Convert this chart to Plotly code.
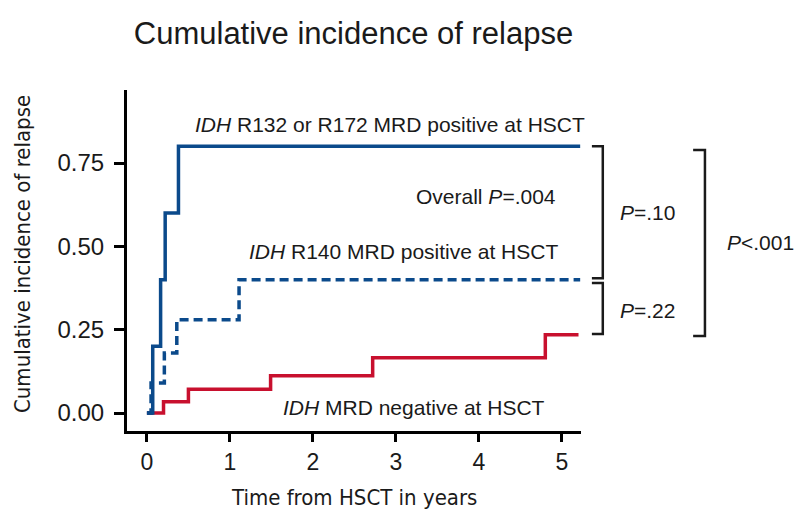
import plotly.graph_objects as go

# ---- data ----
title_text = "Cumulative incidence of relapse"
x_title = "Time from HSCT in years"
y_title = "Cumulative incidence of relapse"

x_ticks = [0, 1, 2, 3, 4, 5]
y_ticks = [0.0, 0.25, 0.50, 0.75]

# IDH R132 or R172 MRD positive (solid blue)
r132_t = [0, 0.07, 0.165, 0.22, 0.38, 5.22]
r132_v = [0, 0.20, 0.40, 0.60, 0.80, 0.80]

# IDH R140 MRD positive (dashed blue)
r140_t = [0, 0.05, 0.21, 0.36, 1.11, 5.22]
r140_v = [0, 0.09, 0.18, 0.28, 0.40, 0.40]

# IDH MRD negative (red)
neg_t = [0, 0.20, 0.50, 1.49, 2.72, 4.80, 5.20]
neg_v = [0, 0.034, 0.071, 0.112, 0.166, 0.235, 0.235]

label_r132 = "<i>IDH</i> R132 or R172 MRD positive at HSCT"
label_r140 = "<i>IDH</i> R140 MRD positive at HSCT"
label_neg = "<i>IDH</i> MRD negative at HSCT"
label_overall = "Overall <i>P</i>=.004"
p_top = "<i>P</i>=.10"
p_bottom = "<i>P</i>=.22"
p_all = "<i>P</i><.001"

BLUE = "#0b4a8b"
RED = "#c8102e"
INK = "#1a1a1a"
FONT = "Liberation Sans, Arial, Helvetica, sans-serif"
NARROW = "Liberation Sans Narrow, Arial Narrow, DejaVu Sans Condensed, Roboto Condensed, sans-serif"

fig = go.Figure()
fig.add_trace(go.Scatter(x=neg_t, y=neg_v, mode="lines", line_shape="hv",
                         line=dict(color=RED, width=3.5), showlegend=False))
fig.add_trace(go.Scatter(x=r140_t, y=r140_v, mode="lines", line_shape="hv",
                         line=dict(color=BLUE, width=3.5, dash="9px,5px"), showlegend=False))
fig.add_trace(go.Scatter(x=r132_t, y=r132_v, mode="lines", line_shape="hv",
                         line=dict(color=BLUE, width=3.5), showlegend=False))

LBL = 21
# curve labels (data coordinates)
ann = [
    dict(x=2.93, y=0.866, text=label_r132),
    dict(x=4.08, y=0.651, text=label_overall),
    dict(x=3.09, y=0.485, text=label_r140),
    dict(x=3.22, y=0.017, text=label_neg),
]
annotations = []
for a in ann:
    annotations.append(dict(x=a["x"], y=a["y"], xref="x", yref="y", text=a["text"],
                            showarrow=False, xanchor="center", yanchor="middle",
                            font=dict(family=FONT, size=LBL, color=INK)))

# bracket geometry in paper-x, data-y
top_v = r132_v[-1]
mid_v = r140_v[-1]
low_v = neg_v[-1]
bx0, bx1 = 1.024, 1.048
Bx0, Bx1 = 1.247, 1.273
shapes = []
def bracket(x0, x1, y0, y1):
    path = f"M {x0},{y0} L {x1},{y0} L {x1},{y1} L {x0},{y1}"
    return dict(type="path", path=path, xref="paper", yref="y",
                line=dict(color=INK, width=2.5))
shapes.append(bracket(bx0, bx1, top_v, mid_v + 0.004))
shapes.append(bracket(bx0, bx1, mid_v - 0.01, low_v + 0.002))
shapes.append(bracket(Bx0, Bx1, top_v - 0.011, low_v - 0.004))

annotations += [
    dict(x=1.082, y=(top_v + mid_v) / 2 + 0.003, xref="paper", yref="y", text=p_top,
         showarrow=False, xanchor="left", yanchor="middle",
         font=dict(family=FONT, size=LBL, color=INK)),
    dict(x=1.082, y=(mid_v + low_v) / 2 - 0.009, xref="paper", yref="y", text=p_bottom,
         showarrow=False, xanchor="left", yanchor="middle",
         font=dict(family=FONT, size=LBL, color=INK)),
    dict(x=1.317, y=(top_v + low_v) / 2 - 0.005, xref="paper", yref="y", text=p_all,
         showarrow=False, xanchor="left", yanchor="middle",
         font=dict(family=FONT, size=LBL, color=INK)),
    # axis titles
    dict(x=(22 - 127) / 454, y=0.519, xref="paper", yref="paper", text=y_title,
         textangle=-90, showarrow=False, xanchor="center", yanchor="middle",
         font=dict(family=NARROW, size=22, color=INK)),
    dict(x=0.5, y=-0.194, xref="paper", yref="paper", text=x_title,
         showarrow=False, xanchor="center", yanchor="middle",
         font=dict(family=NARROW, size=22, color=INK)),
]

fig.update_layout(
    width=795, height=531,
    margin=dict(l=127, r=214, t=90, b=100),
    paper_bgcolor="white", plot_bgcolor="white",
    shapes=shapes, annotations=annotations,
    title=dict(text=title_text, x=353.5 / 795, xanchor="center", xref="container",
               y=1 - 33 / 531, yanchor="middle", yref="container",
               font=dict(family=FONT, size=31, color=INK)),
    xaxis=dict(range=[-0.24, 5.23], tickvals=x_ticks, ticktext=[str(v) for v in x_ticks],
               showline=True, linecolor="black", linewidth=3, mirror=False,
               ticks="outside", ticklen=8, tickwidth=2.5, tickcolor="black",
               showgrid=False, zeroline=False,
               tickfont=dict(family=FONT, size=23, color=INK)),
    yaxis=dict(range=[-0.054, 0.969], tickvals=y_ticks, ticktext=[f"{v:.2f}" for v in y_ticks],
               showline=True, linecolor="black", linewidth=3, mirror=False,
               ticks="outside", ticklen=10, tickwidth=2.5, tickcolor="black",
               ticklabelstandoff=5,
               showgrid=False, zeroline=False,
               tickfont=dict(family=FONT, size=24, color=INK)),
)

fig.write_html("out.html")
